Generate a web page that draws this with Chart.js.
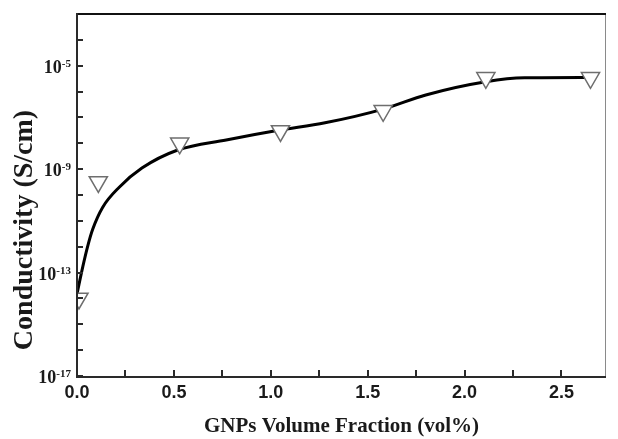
<!DOCTYPE html>
<html><head><meta charset="utf-8">
<script src="https://cdn.jsdelivr.net/npm/chart.js@4/dist/chart.umd.min.js"></script>
<style>html,body{margin:0;padding:0;background:#fff;overflow:hidden;width:618px;height:439px}#wrap{width:618px;height:439px;position:relative;overflow:hidden}canvas{display:block}</style>
</head><body><div id="wrap"><canvas id="c"></canvas></div>
<script>
// Measured data points (inverted triangles)
const markerX = [0.01, 0.11, 0.53, 1.05, 1.58, 2.11, 2.65];
const markerY = [1.0e-14, 3.2e-10, 1.0e-8, 3.0e-8, 1.8e-7, 3.4e-6, 3.4e-6];
// Fitted smooth curve
const curveX = [0, 0.03, 0.056, 0.081, 0.132, 0.218, 0.335, 0.52, 0.77, 1.04, 1.28, 1.58, 1.80, 2.11, 2.31, 2.65];
const curveY = [1.5e-14, 1.7e-13, 1.1e-12, 4.7e-12, 3.3e-11, 2.0e-10, 1.1e-9, 5.5e-9, 1.35e-8, 3.2e-8, 6.2e-8, 2.1e-7, 7.4e-7, 2.4e-6, 3.4e-6, 3.5e-6];
// Axis ticks and labels
const xTickValues = [0, 0.25, 0.5, 0.75, 1.0, 1.25, 1.5, 1.75, 2.0, 2.25, 2.5];
const xLabelValues = [0, 0.5, 1.0, 1.5, 2.0, 2.5];
const xLabels = ['0.0', '0.5', '1.0', '1.5', '2.0', '2.5'];
const yTickExps = [-17, -16, -15, -14, -13, -12, -11, -10, -9, -8, -7, -6, -5, -4];
const yLabelExps = [-17, -13, -9, -5];
const xTitle = 'GNPs Volume Fraction (vol%)';
const yTitle = 'Conductivity (S/cm)';

const framePlugin = {
  id: 'frame',
  afterDatasetsDraw(chart) {
    const {ctx, chartArea: a, scales: {x, y}} = chart;
    ctx.save();
    // right border (thin gray)
    ctx.strokeStyle = '#8a8a8a'; ctx.lineWidth = 1;
    ctx.beginPath(); ctx.moveTo(a.right - 0.5, a.top); ctx.lineTo(a.right - 0.5, a.bottom); ctx.stroke();
    // top border
    ctx.strokeStyle = '#111'; ctx.lineWidth = 2;
    ctx.beginPath(); ctx.moveTo(a.left, a.top); ctx.lineTo(a.right, a.top); ctx.stroke();
    // left and bottom axes
    ctx.strokeStyle = '#2a2a2a'; ctx.lineWidth = 2;
    ctx.beginPath(); ctx.moveTo(a.left, a.top - 1); ctx.lineTo(a.left, a.bottom + 1); ctx.lineTo(a.right, a.bottom + 1); ctx.stroke();
    // y ticks (inward)
    ctx.lineWidth = 2;
    yTickExps.forEach(e => {
      const py = Math.round(y.getPixelForValue(Math.pow(10, e)));
      ctx.beginPath(); ctx.moveTo(a.left, py); ctx.lineTo(a.left + 6, py); ctx.stroke();
    });
    // x ticks (inward)
    xTickValues.forEach(v => {
      const px = Math.round(x.getPixelForValue(v));
      ctx.beginPath(); ctx.moveTo(px, a.bottom); ctx.lineTo(px, a.bottom - 6); ctx.stroke();
    });
    // y labels 10^e
    ctx.fillStyle = '#1a1a1a';
    ctx.textAlign = 'right'; ctx.textBaseline = 'alphabetic';
    yLabelExps.forEach(e => {
      const py = y.getPixelForValue(Math.pow(10, e));
      const sup = String(e);
      ctx.font = 'bold 11px "Liberation Serif"';
      const ws = ctx.measureText(sup).width;
      const right = 71;
      ctx.fillText(sup, right, py + 1);
      ctx.font = 'bold 18px "Liberation Serif"';
      ctx.fillText('10', right - ws, py + 7);
    });
    // x labels
    ctx.textAlign = 'center';
    ctx.font = 'bold 18px "Liberation Sans"';
    xLabelValues.forEach((v, i) => {
      ctx.fillText(xLabels[i], x.getPixelForValue(v), 398);
    });
    // titles
    ctx.font = 'bold 21px "Liberation Serif"';
    ctx.fillText(xTitle, (a.left + a.right) / 2, 432);
    ctx.save();
    ctx.translate(32, 230); ctx.rotate(-Math.PI / 2);
    ctx.font = 'bold 28px "Liberation Serif"';
    ctx.textAlign = 'center';
    ctx.fillText(yTitle, 0, 0);
    ctx.restore();
    ctx.restore();
  }
};

new Chart(document.getElementById('c'), {
  type: 'scatter',
  data: {
    datasets: [
      {
        label: 'Measured',
        data: markerX.map((v, i) => ({x: v, y: markerY[i]})),
        pointStyle: 'triangle', rotation: 180, pointRadius: 10.5,
        pointBackgroundColor: '#ffffff', pointBorderColor: '#6e6e6e', pointBorderWidth: 1.5,
        showLine: false, clip: 0, order: 0
      },
      {
        label: 'Fit',
        data: curveX.map((v, i) => ({x: v, y: curveY[i]})),
        showLine: true, borderColor: '#000', borderWidth: 3, pointRadius: 0,
        cubicInterpolationMode: 'monotone', fill: false, clip: 0, order: 1
      }
    ]
  },
  options: {
    responsive: true, maintainAspectRatio: false, animation: false,
    layout: {padding: {left: 77, top: 14, right: 2, bottom: 63}},
    plugins: {legend: {display: false}, tooltip: {enabled: false}},
    scales: {
      x: {type: 'linear', min: 0, max: 2.73, display: false},
      y: {type: 'logarithmic', min: 1e-17, max: 1e-3, display: false}
    }
  },
  plugins: [framePlugin]
});
</script>
</body></html>
